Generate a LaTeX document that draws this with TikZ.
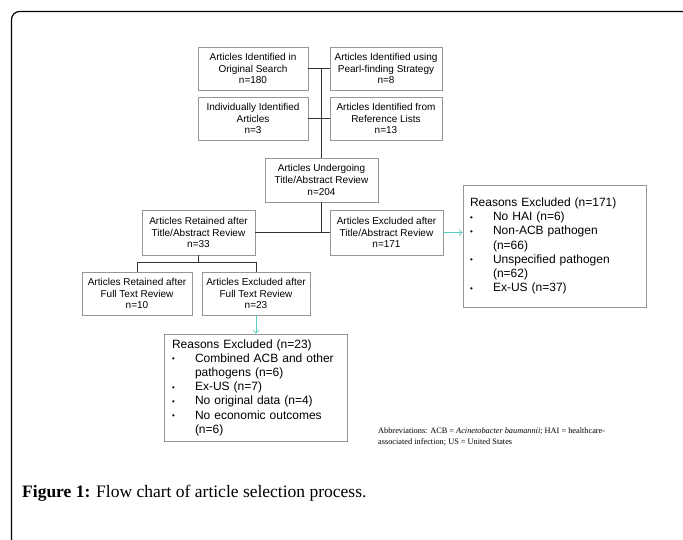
\documentclass[tikz,border=0pt]{standalone}
\usepackage{fontspec}
\setmainfont{Liberation Serif}
\setsansfont{Liberation Sans}
\usetikzlibrary{arrows.meta, positioning, calc}

\definecolor{boxgray}{RGB}{150,150,150}
\definecolor{linkteal}{RGB}{90,205,195}

\tikzset{
  box/.style={draw=boxgray, line width=0.6pt, align=center, inner sep=1pt,
    minimum width=110pt, minimum height=43pt,
    font=\sffamily\fontsize{10}{11.7}\selectfont},
  widebox/.style={box, minimum width=113pt, minimum height=44pt},
  reasons/.style={draw=boxgray, line width=0.6pt, align=left, inner xsep=7pt,
    inner ysep=0pt, text width=169pt,
    font=\sffamily\fontsize{12}{14.2}\selectfont},
  link/.style={draw=black!80, line width=0.9pt},
  tealarrow/.style={draw=linkteal, line width=0.8pt, -{Straight Barb[length=3pt]}},
}
\newcommand{\bul}[1]{\makebox[23pt][l]{\raisebox{0.5pt}{\fontsize{8}{8}\selectfont\textbullet}}#1}
\newcommand{\cont}[1]{\hspace*{23pt}#1}

\begin{document}
\begin{tikzpicture}[x=1pt, y=-1pt]
  \clip (0,0) rectangle (683,539);
  % frame of the figure
  \draw[line width=1.2pt, rounded corners=8pt] (11.5,560) -- (11.5,11.5) -- (692,11.5) -- (692,560);

  % sources
  \node[box] (orig) at (253,68.5) {Articles Identified in\\Original Search\\n=180};
  \node[box, minimum width=112pt] (pearl) at (386,68.5) {Articles Identified using\\Pearl-finding Strategy\\n=8};
  \node[box] (indiv) at (253,118.5) {Individually Identified\\Articles\\n=3};
  \node[box, minimum width=112pt] (reflist) at (386,118.5) {Articles Identified from\\Reference Lists\\n=13};

  % title/abstract stage
  \node[widebox] (review) at (321.5,180) {Articles Undergoing\\Title/Abstract Review\\n=204};
  \node[widebox, minimum height=45pt] (retain) at (198.5,232.5) {Articles Retained after\\Title/Abstract Review\\n=33};
  \node[widebox, minimum height=45pt] (exclude) at (386.5,232.5) {Articles Excluded after\\Title/Abstract Review\\n=171};
  \node[reasons, minimum height=122pt] (whyta) at (554.5,246) {Reasons Excluded (n=171)\\
    \bul{No HAI (n=6)}\\
    \bul{Non-ACB pathogen}\\
    \cont{(n=66)}\\
    \bul{Unspecified pathogen}\\
    \cont{(n=62)}\\
    \bul{Ex-US (n=37)}};

  % full text stage
  \node[box] (ftretain) at (137,293.5) {Articles Retained after\\Full Text Review\\n=10};
  \node[box, minimum width=108pt] (ftexcl) at (256,293.5) {Articles Excluded after\\Full Text Review\\n=23};
  \node[reasons, minimum height=107pt, text width=167pt, inner xsep=8pt] (whyft) at (255.5,387.5) {Reasons Excluded (n=23)\\
    \bul{Combined ACB and other}\\
    \cont{pathogens (n=6)}\\
    \bul{Ex-US (n=7)}\\
    \bul{No original data (n=4)}\\
    \bul{No economic outcomes}\\
    \cont{(n=6)}};

  % connectors
  \draw[link] (orig.east) -- (pearl.west);
  \draw[link] (indiv.east) -- (reflist.west);
  \draw[link] (review.north |- orig.east) -- (review.north);
  \draw[link] (retain.east) -- (exclude.west);
  \draw[link] (review.south) -- (review.south |- retain.east);
  \coordinate (ftfork) at ($(retain.south)+(0,7)$);
  \draw[link] (retain.south) -- (ftfork);
  \draw[link] (ftretain.north) |- (ftfork) -| (ftexcl.north);
  \draw[tealarrow] (exclude.east) -- (exclude.east -| whyta.west);
  \draw[tealarrow] (ftexcl.south) -- (ftexcl.south |- whyft.north);

  % notes
  \node[anchor=north west, align=left, inner sep=0pt, font=\fontsize{8.3}{10.5}\selectfont] (abbrev) at (378,428)
    {Abbreviations: ACB = \textit{Acinetobacter baumannii}; HAI = healthcare-\\associated infection; US = United States};
  \node[anchor=base west, inner sep=0pt, font=\fontsize{17.5}{20}\selectfont] (caption) at (22,497)
    {\textbf{Figure 1:} Flow chart of article selection process.};
\end{tikzpicture}
\end{document}
